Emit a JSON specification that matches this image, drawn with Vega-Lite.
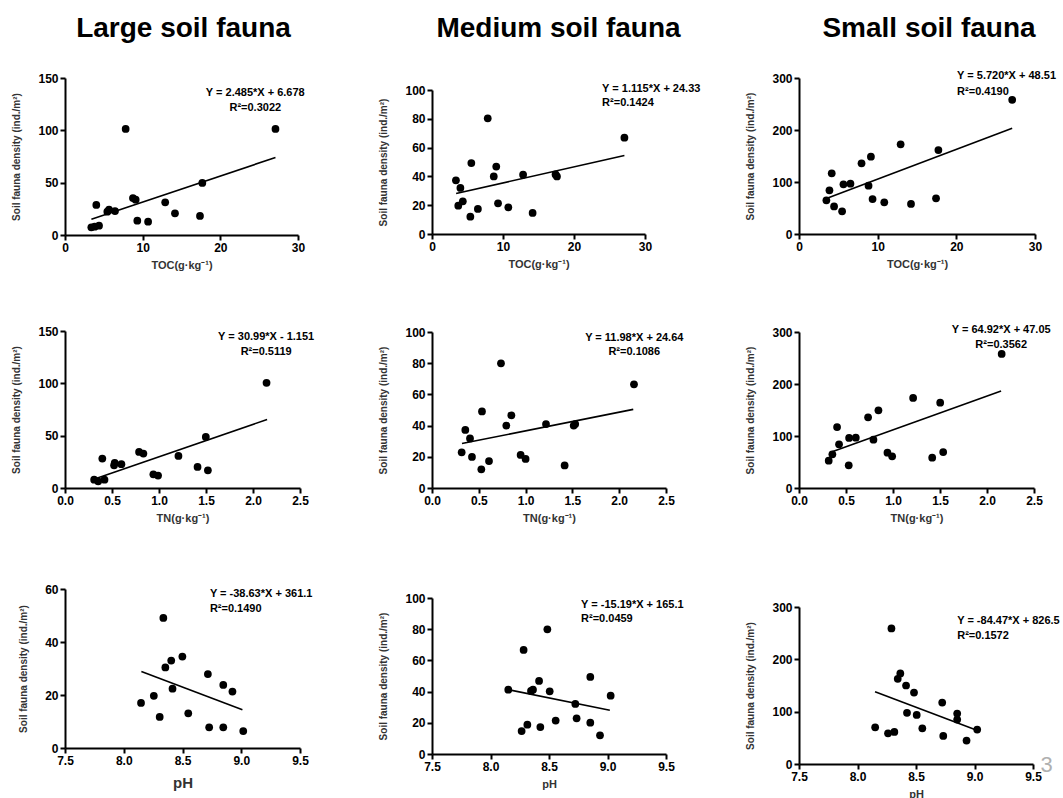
{
  "$schema": "https://vega.github.io/schema/vega-lite/v6.json",
  "background": "white",
  "padding": {"left": 11, "top": 15, "right": 5, "bottom": 5},
  "config": {
    "view": {"stroke": null},
    "font": "Liberation Sans",
    "axis": {"domainColor": "black", "domainWidth": 2, "tickColor": "black", "tickWidth": 2, "tickSize": 5, "tickCount": 20, "labelFont": "Liberation Sans", "labelFontWeight": "bold", "labelFontSize": 12, "labelColor": "black", "labelPadding": 2, "labelFlush": false, "labelOverlap": false, "titleFont": "Liberation Sans", "titleFontWeight": "bold", "titleFontSize": 10, "titleColor": "#333", "grid": false},
    "axisX": {"titlePadding": 6, "titleFontSize": 11},
    "axisY": {"titlePadding": 16},
    "title": {"font": "Liberation Sans", "fontSize": 28, "fontWeight": "bold", "color": "black", "anchor": "middle", "frame": "group", "offset": 0},
    "text": {"font": "Liberation Sans", "fontWeight": "bold", "fontSize": 11, "baseline": "middle", "color": "black"},
    "circle": {"size": 60, "color": "black", "opacity": 1},
    "line": {"color": "black", "strokeWidth": 1.6}
  },
  "hconcat": [
    {
      "hconcat": [
        {
          "vconcat": [
            {"width": 233, "height": 1, "title": {"text": "Large soil fauna", "dx": 2}, "data": {"values": []}, "mark": "text", "encoding": {}},
            {
              "vconcat": [
                {
                  "vconcat": [
                    {
                      "width": 233, "height": 157,
                      "layer": [
                        {"data": {"values": [{"x":3.39,"y":7.4},{"x":3.82,"y":7.9},{"x":4.38,"y":8.9},{"x":4.03,"y":28.7},{"x":5.45,"y":22.3},{"x":5.67,"y":24.2},{"x":6.44,"y":22.9},{"x":7.81,"y":101.3},{"x":8.75,"y":35.3},{"x":9.1,"y":33.7},{"x":9.31,"y":13.7},{"x":10.7,"y":12.7},{"x":12.9,"y":31.2},{"x":14.16,"y":20.7},{"x":17.38,"y":18.2},{"x":17.68,"y":49.7},{"x":27.1,"y":101.3}]},
                         "mark": "circle",
                         "encoding": {"x": {"field": "x", "type": "quantitative", "scale": {"domain": [0, 30], "nice": false}, "axis": {"values": [0, 10, 20, 30], "title": "TOC(g·kg⁻¹)"}},
                                      "y": {"field": "y", "type": "quantitative", "scale": {"domain": [0, 150], "nice": false}, "axis": {"values": [0, 50, 100, 150], "title": "Soil fauna density (ind./m²)"}}}},
                        {"data": {"values": [{"x":3.4,"y":15.13},{"x":27.1,"y":74.02}]}, "mark": "line",
                         "encoding": {"x": {"field": "x", "type": "quantitative"}, "y": {"field": "y", "type": "quantitative"}}},
                        {"data": {"values": [{"t": "Y = 2.485*X + 6.678"}]}, "mark": {"type": "text", "align": "center"},
                         "encoding": {"x": {"datum": 24.5}, "y": {"datum": 135.7}, "text": {"field": "t"}}},
                        {"data": {"values": [{"t": "R²=0.3022"}]}, "mark": {"type": "text", "align": "center"},
                         "encoding": {"x": {"datum": 24.5}, "y": {"datum": 121.3}, "text": {"field": "t"}}}
                      ]
                    },
                    {
                      "width": 235, "height": 157,
                      "layer": [
                        {"data": {"values": [{"x":0.31,"y":8.0},{"x":0.353,"y":6.4},{"x":0.42,"y":8.0},{"x":0.397,"y":28.1},{"x":0.522,"y":21.7},{"x":0.529,"y":23.9},{"x":0.6,"y":22.7},{"x":0.788,"y":34.5},{"x":0.834,"y":32.9},{"x":0.94,"y":13.1},{"x":0.99,"y":11.9},{"x":1.207,"y":30.6},{"x":1.41,"y":20.1},{"x":1.52,"y":16.9},{"x":1.498,"y":48.8},{"x":2.144,"y":100.5}]},
                         "mark": "circle",
                         "encoding": {"x": {"field": "x", "type": "quantitative", "scale": {"domain": [0, 2.5], "nice": false}, "axis": {"values": [0, 0.5, 1, 1.5, 2, 2.5], "format": ".1f", "title": "TN(g·kg⁻¹)"}},
                                      "y": {"field": "y", "type": "quantitative", "scale": {"domain": [0, 150], "nice": false}, "axis": {"values": [0, 50, 100, 150], "title": "Soil fauna density (ind./m²)"}}}},
                        {"data": {"values": [{"x":0.33,"y":9.08},{"x":2.15,"y":65.48}]}, "mark": "line",
                         "encoding": {"x": {"field": "x", "type": "quantitative"}, "y": {"field": "y", "type": "quantitative"}}},
                        {"data": {"values": [{"t": "Y = 30.99*X - 1.151"}]}, "mark": {"type": "text", "align": "center"},
                         "encoding": {"x": {"datum": 2.14}, "y": {"datum": 144}, "text": {"field": "t"}}},
                        {"data": {"values": [{"t": "R²=0.5119"}]}, "mark": {"type": "text", "align": "center"},
                         "encoding": {"x": {"datum": 2.14}, "y": {"datum": 130.2}, "text": {"field": "t"}}}
                      ]
                    }
                  ],
                  "spacing": 55
                },
                {
                  "width": 235, "height": 159,
                  "layer": [
                    {"data": {"values": [{"x":8.147,"y":17.0},{"x":8.256,"y":19.7},{"x":8.306,"y":11.7},{"x":8.337,"y":49.1},{"x":8.354,"y":30.4},{"x":8.404,"y":33.0},{"x":8.415,"y":22.4},{"x":8.499,"y":34.5},{"x":8.549,"y":13.1},{"x":8.716,"y":27.9},{"x":8.727,"y":7.8},{"x":8.847,"y":23.8},{"x":8.847,"y":7.8},{"x":8.925,"y":21.3},{"x":9.017,"y":6.4}]},
                     "mark": "circle",
                     "encoding": {"x": {"field": "x", "type": "quantitative", "scale": {"domain": [7.5, 9.5], "nice": false, "zero": false}, "axis": {"values": [7.5, 8, 8.5, 9, 9.5], "format": ".1f", "title": "pH", "titleFontSize": 15, "titlePadding": 9}},
                                  "y": {"field": "y", "type": "quantitative", "scale": {"domain": [0, 60], "nice": false}, "axis": {"values": [0, 20, 40, 60], "title": "Soil fauna density (ind./m²)"}}}},
                    {"data": {"values": [{"x":8.15,"y":28.9},{"x":9.01,"y":14.4}]}, "mark": "line",
                     "encoding": {"x": {"field": "x", "type": "quantitative"}, "y": {"field": "y", "type": "quantitative"}}},
                    {"data": {"values": [{"t": "Y = -38.63*X + 361.1"}]}, "mark": {"type": "text", "align": "left"},
                     "encoding": {"x": {"datum": 8.733}, "y": {"datum": 58.1}, "text": {"field": "t"}}},
                    {"data": {"values": [{"t": "R²=0.1490"}]}, "mark": {"type": "text", "align": "left"},
                     "encoding": {"x": {"datum": 8.733}, "y": {"datum": 52.5}, "text": {"field": "t"}}}
                  ]
                }
              ],
              "spacing": 60
            }
          ],
          "spacing": 24
        },
        {
          "vconcat": [
            {"width": 213, "height": 1, "title": {"text": "Medium soil fauna", "dx": 20}, "data": {"values": []}, "mark": "text", "encoding": {}},
            {
              "vconcat": [
                {
                  "vconcat": [
                    {
                      "width": 213, "height": 144,
                      "layer": [
                        {"data": {"values": [{"x":3.37,"y":37.3},{"x":3.7,"y":19.7},{"x":4.0,"y":32},{"x":4.34,"y":22.7},{"x":5.4,"y":12},{"x":5.54,"y":49.3},{"x":6.46,"y":17.4},{"x":7.85,"y":80.3},{"x":8.7,"y":40},{"x":9.05,"y":46.8},{"x":9.3,"y":21.3},{"x":10.75,"y":18.5},{"x":12.83,"y":41.2},{"x":14.17,"y":14.6},{"x":17.4,"y":41.4},{"x":17.6,"y":40},{"x":27.1,"y":66.9}]},
                         "mark": "circle",
                         "encoding": {"x": {"field": "x", "type": "quantitative", "scale": {"domain": [0, 30], "nice": false}, "axis": {"values": [0, 10, 20, 30], "title": "TOC(g·kg⁻¹)"}},
                                      "y": {"field": "y", "type": "quantitative", "scale": {"domain": [0, 100], "nice": false}, "axis": {"values": [0, 20, 40, 60, 80, 100], "title": "Soil fauna density (ind./m²)"}}}},
                        {"data": {"values": [{"x":3.4,"y":28.12},{"x":27.1,"y":54.55}]}, "mark": "line",
                         "encoding": {"x": {"field": "x", "type": "quantitative"}, "y": {"field": "y", "type": "quantitative"}}},
                        {"data": {"values": [{"t": "Y = 1.115*X + 24.33"}]}, "mark": {"type": "text", "align": "left"},
                         "encoding": {"x": {"datum": 23.96}, "y": {"datum": 100.7}, "text": {"field": "t"}}},
                        {"data": {"values": [{"t": "R²=0.1424"}]}, "mark": {"type": "text", "align": "left"},
                         "encoding": {"x": {"datum": 23.96}, "y": {"datum": 91}, "text": {"field": "t"}}}
                      ]
                    },
                    {
                      "width": 234, "height": 156,
                      "layer": [
                        {"data": {"values": [{"x":0.317,"y":22.9},{"x":0.356,"y":37.2},{"x":0.406,"y":31.8},{"x":0.427,"y":19.9},{"x":0.527,"y":12.0},{"x":0.534,"y":49.1},{"x":0.609,"y":17.3},{"x":0.737,"y":79.9},{"x":0.794,"y":40.0},{"x":0.848,"y":46.6},{"x":0.947,"y":21.2},{"x":1.0,"y":18.6},{"x":1.218,"y":41.0},{"x":1.417,"y":14.5},{"x":1.514,"y":40.0},{"x":1.53,"y":41.0},{"x":2.158,"y":66.5}]},
                         "mark": "circle",
                         "encoding": {"x": {"field": "x", "type": "quantitative", "scale": {"domain": [0, 2.5], "nice": false}, "axis": {"values": [0, 0.5, 1, 1.5, 2, 2.5], "format": ".1f", "title": "TN(g·kg⁻¹)"}},
                                      "y": {"field": "y", "type": "quantitative", "scale": {"domain": [0, 100], "nice": false}, "axis": {"values": [0, 20, 40, 60, 80, 100], "title": "Soil fauna density (ind./m²)"}}}},
                        {"data": {"values": [{"x":0.32,"y":28.47},{"x":2.15,"y":50.4}]}, "mark": "line",
                         "encoding": {"x": {"field": "x", "type": "quantitative"}, "y": {"field": "y", "type": "quantitative"}}},
                        {"data": {"values": [{"t": "Y = 11.98*X + 24.64"}]}, "mark": {"type": "text", "align": "center"},
                         "encoding": {"x": {"datum": 2.161}, "y": {"datum": 96.4}, "text": {"field": "t"}}},
                        {"data": {"values": [{"t": "R²=0.1086"}]}, "mark": {"type": "text", "align": "center"},
                         "encoding": {"x": {"datum": 2.161}, "y": {"datum": 87.2}, "text": {"field": "t"}}}
                      ]
                    }
                  ],
                  "spacing": 57
                },
                {
                  "width": 234, "height": 156,
                  "layer": [
                    {"data": {"values": [{"x":8.152,"y":41.2},{"x":8.266,"y":14.7},{"x":8.283,"y":66.7},{"x":8.315,"y":18.8},{"x":8.346,"y":40.4},{"x":8.363,"y":41.2},{"x":8.415,"y":46.8},{"x":8.426,"y":17.3},{"x":8.486,"y":79.9},{"x":8.506,"y":40.2},{"x":8.557,"y":21.4},{"x":8.725,"y":32.1},{"x":8.736,"y":22.9},{"x":8.853,"y":49.4},{"x":8.853,"y":20.1},{"x":8.936,"y":12.0},{"x":9.027,"y":37.4}]},
                     "mark": "circle",
                     "encoding": {"x": {"field": "x", "type": "quantitative", "scale": {"domain": [7.5, 9.5], "nice": false, "zero": false}, "axis": {"values": [7.5, 8, 8.5, 9, 9.5], "format": ".1f", "title": "pH"}},
                                  "y": {"field": "y", "type": "quantitative", "scale": {"domain": [0, 100], "nice": false}, "axis": {"values": [0, 20, 40, 60, 80, 100], "title": "Soil fauna density (ind./m²)"}}}},
                    {"data": {"values": [{"x":8.15,"y":41.3},{"x":9.02,"y":28.09}]}, "mark": "line",
                     "encoding": {"x": {"field": "x", "type": "quantitative"}, "y": {"field": "y", "type": "quantitative"}}},
                    {"data": {"values": [{"t": "Y = -15.19*X + 165.1"}]}, "mark": {"type": "text", "align": "left"},
                     "encoding": {"x": {"datum": 8.774}, "y": {"datum": 95.5}, "text": {"field": "t"}}},
                    {"data": {"values": [{"t": "R²=0.0459"}]}, "mark": {"type": "text", "align": "left"},
                     "encoding": {"x": {"datum": 8.774}, "y": {"datum": 86.5}, "text": {"field": "t"}}}
                  ]
                }
              ],
              "spacing": 69
            }
          ],
          "spacing": 34
        }
      ],
      "spacing": 63
    },
    {
      "vconcat": [
        {"width": 236, "height": 1, "title": {"text": "Small soil fauna", "dx": 12}, "data": {"values": []}, "mark": "text", "encoding": {}},
        {
          "vconcat": [
            {
              "vconcat": [
                {
                  "width": 236, "height": 156,
                  "layer": [
                    {"data": {"values": [{"x":3.48,"y":64.7},{"x":3.87,"y":84},{"x":4.16,"y":116.7},{"x":4.46,"y":53},{"x":5.48,"y":43.6},{"x":5.65,"y":95.5},{"x":6.54,"y":96.8},{"x":7.95,"y":136},{"x":8.84,"y":93},{"x":9.14,"y":148.7},{"x":9.35,"y":67.3},{"x":10.84,"y":61},{"x":12.92,"y":172.4},{"x":14.24,"y":57.7},{"x":17.42,"y":68.6},{"x":17.72,"y":161.5},{"x":27.1,"y":258}]},
                     "mark": "circle",
                     "encoding": {"x": {"field": "x", "type": "quantitative", "scale": {"domain": [0, 30], "nice": false}, "axis": {"values": [0, 10, 20, 30], "title": "TOC(g·kg⁻¹)"}},
                                  "y": {"field": "y", "type": "quantitative", "scale": {"domain": [0, 300], "nice": false}, "axis": {"values": [0, 100, 200, 300], "title": "Soil fauna density (ind./m²)"}}}},
                    {"data": {"values": [{"x":3.4,"y":67.96},{"x":27.1,"y":203.5}]}, "mark": "line",
                     "encoding": {"x": {"field": "x", "type": "quantitative"}, "y": {"field": "y", "type": "quantitative"}}},
                    {"data": {"values": [{"t": "Y = 5.720*X + 48.51"}]}, "mark": {"type": "text", "align": "left"},
                     "encoding": {"x": {"datum": 20.1}, "y": {"datum": 303}, "text": {"field": "t"}}},
                    {"data": {"values": [{"t": "R²=0.4190"}]}, "mark": {"type": "text", "align": "left"},
                     "encoding": {"x": {"datum": 20.1}, "y": {"datum": 273}, "text": {"field": "t"}}}
                  ]
                },
                {
                  "width": 235, "height": 156,
                  "layer": [
                    {"data": {"values": [{"x":0.316,"y":52.6},{"x":0.355,"y":64.7},{"x":0.405,"y":117.3},{"x":0.426,"y":84},{"x":0.529,"y":43.6},{"x":0.533,"y":96.2},{"x":0.604,"y":96.8},{"x":0.735,"y":135.9},{"x":0.792,"y":92.9},{"x":0.845,"y":149.4},{"x":0.941,"y":67.9},{"x":0.991,"y":60.9},{"x":1.214,"y":173.1},{"x":1.417,"y":58.3},{"x":1.502,"y":164.1},{"x":1.534,"y":69.2},{"x":2.156,"y":257.7}]},
                     "mark": "circle",
                     "encoding": {"x": {"field": "x", "type": "quantitative", "scale": {"domain": [0, 2.5], "nice": false}, "axis": {"values": [0, 0.5, 1, 1.5, 2, 2.5], "format": ".1f", "title": "TN(g·kg⁻¹)"}},
                                  "y": {"field": "y", "type": "quantitative", "scale": {"domain": [0, 300], "nice": false}, "axis": {"values": [0, 100, 200, 300], "title": "Soil fauna density (ind./m²)"}}}},
                    {"data": {"values": [{"x":0.33,"y":68.47},{"x":2.15,"y":186.63}]}, "mark": "line",
                     "encoding": {"x": {"field": "x", "type": "quantitative"}, "y": {"field": "y", "type": "quantitative"}}},
                    {"data": {"values": [{"t": "Y = 64.92*X + 47.05"}]}, "mark": {"type": "text", "align": "center"},
                     "encoding": {"x": {"datum": 2.151}, "y": {"datum": 303.3}, "text": {"field": "t"}}},
                    {"data": {"values": [{"t": "R²=0.3562"}]}, "mark": {"type": "text", "align": "center"},
                     "encoding": {"x": {"datum": 2.151}, "y": {"datum": 274.4}, "text": {"field": "t"}}}
                  ]
                }
              ],
              "spacing": 55
            },
            {
              "width": 234, "height": 157,
              "layer": [
                {"data": {"values": [{"x":8.151,"y":70.2},{"x":8.261,"y":58.7},{"x":8.29,"y":259.1},{"x":8.315,"y":61.3},{"x":8.344,"y":162.8},{"x":8.366,"y":173.0},{"x":8.415,"y":150.0},{"x":8.423,"y":97.7},{"x":8.483,"y":136.6},{"x":8.506,"y":93.8},{"x":8.554,"y":68.3},{"x":8.724,"y":117.4},{"x":8.733,"y":53.6},{"x":8.852,"y":96.4},{"x":8.852,"y":84.9},{"x":8.932,"y":44.7},{"x":9.023,"y":65.7}]},
                 "mark": "circle",
                 "encoding": {"x": {"field": "x", "type": "quantitative", "scale": {"domain": [7.5, 9.5], "nice": false, "zero": false}, "axis": {"values": [7.5, 8, 8.5, 9, 9.5], "format": ".1f", "title": "pH"}},
                              "y": {"field": "y", "type": "quantitative", "scale": {"domain": [0, 300], "nice": false}, "axis": {"values": [0, 100, 200, 300], "title": "Soil fauna density (ind./m²)"}}}},
                {"data": {"values": [{"x":8.15,"y":138.07},{"x":9.02,"y":64.58}]}, "mark": "line",
                 "encoding": {"x": {"field": "x", "type": "quantitative"}, "y": {"field": "y", "type": "quantitative"}}},
                {"data": {"values": [{"t": "Y = -84.47*X + 826.5"}]}, "mark": {"type": "text", "align": "left"},
                 "encoding": {"x": {"datum": 8.852}, "y": {"datum": 273.8}, "text": {"field": "t"}}},
                {"data": {"values": [{"t": "R²=0.1572"}]}, "mark": {"type": "text", "align": "left"},
                 "encoding": {"x": {"datum": 8.852}, "y": {"datum": 245}, "text": {"field": "t"}}},
                {"data": {"values": [{"t": "3"}]}, "mark": {"type": "text", "align": "center", "fontSize": 22, "fontWeight": "normal", "color": "#b0b0b0"},
                 "encoding": {"x": {"datum": 9.617}, "y": {"datum": -2}, "text": {"field": "t"}}}
              ]
            }
          ],
          "spacing": 78
        }
      ],
      "spacing": 22
    }
  ],
  "spacing": 44
}
